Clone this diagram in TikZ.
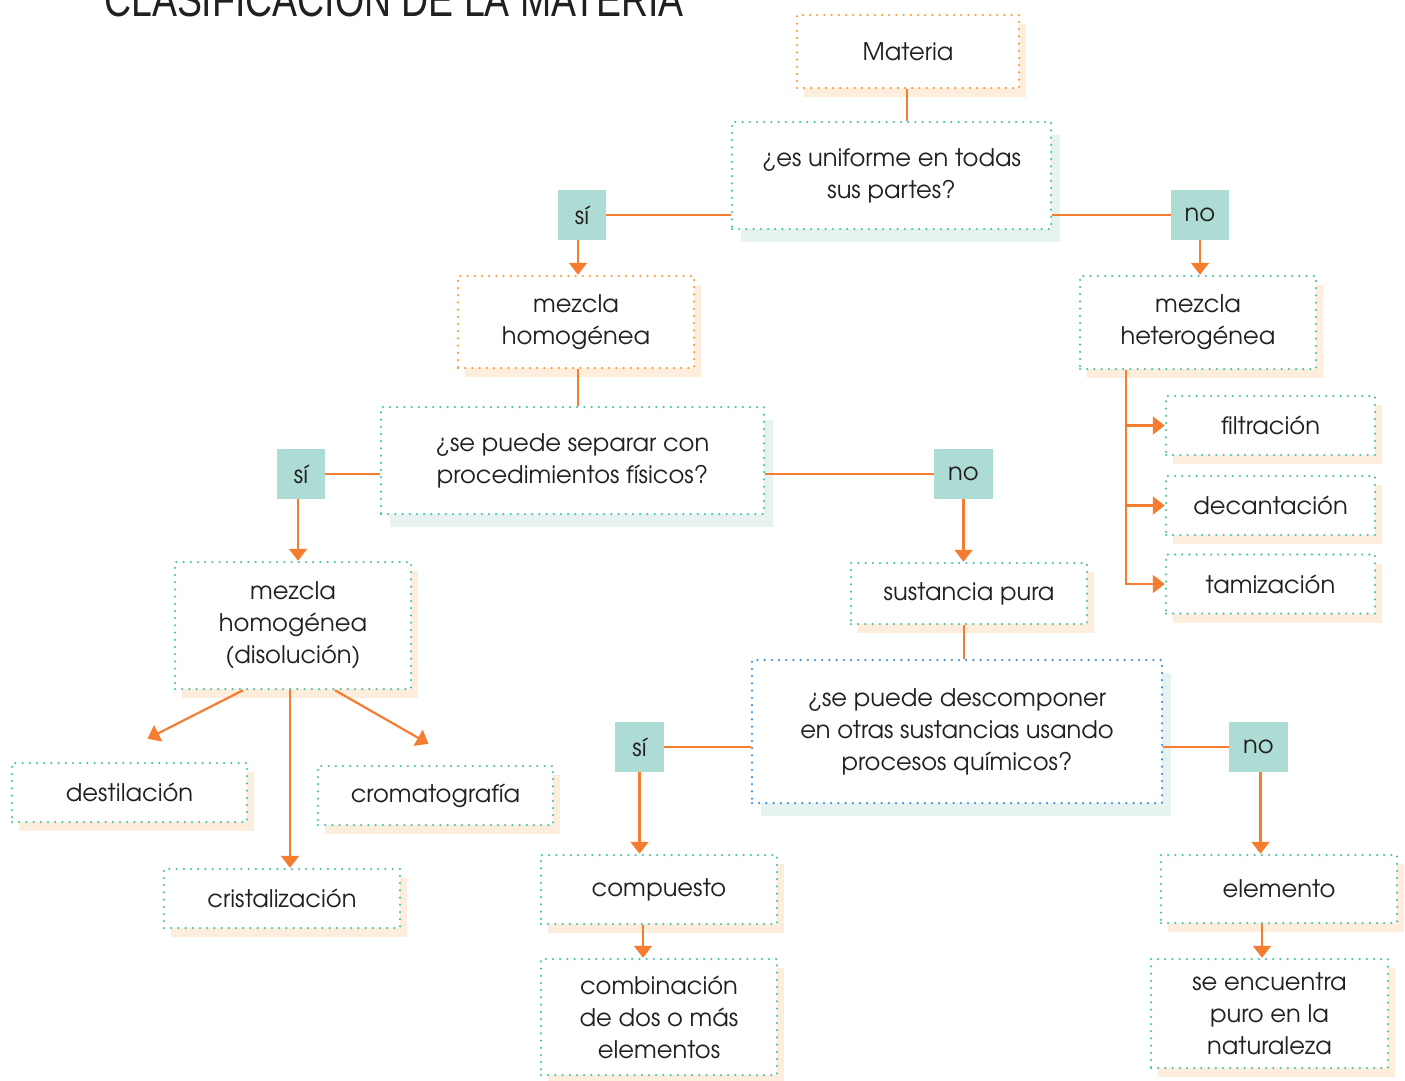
\documentclass[tikz,border=0pt]{standalone}
\usepackage{fontspec}
\setmainfont{texgyreadventor-regular.otf}
\newfontfamily\titlefont{Liberation Sans}
\usepackage{graphicx}
\usetikzlibrary{arrows.meta,positioning,shadows}
\definecolor{lineorange}{RGB}{244,125,48}
\definecolor{boxorange}{RGB}{245,162,62}
\definecolor{boxteal}{RGB}{82,196,172}
\definecolor{boxblue}{RGB}{66,145,215}
\definecolor{answerteal}{RGB}{172,220,212}
\definecolor{peach}{RGB}{253,237,221}
\definecolor{paleteal}{RGB}{230,243,240}
\definecolor{inkgray}{RGB}{35,31,32}

\begin{document}
\begin{tikzpicture}[
        x=1pt, y=-1pt,
        concept/.style={
            rectangle,
            fill=white,
            draw=boxteal,
            line width=2.5pt,
            dash pattern=on 0pt off 7.2pt,
            line cap=round,
            inner sep=0pt,
            text=inkgray,
            font=\fontsize{24.2}{32}\selectfont,
            align=center
        },
        warm/.style={
            concept,
            drop shadow={fill=peach, opacity=1, shadow xshift=7pt, shadow yshift=-9pt}
        },
        cool/.style={
            concept,
            drop shadow={fill=paleteal, opacity=1, shadow xshift=9pt, shadow yshift=-13pt}
        },
        answer/.style={
            rectangle,
            fill=answerteal,
            minimum width=48pt,
            minimum height=50pt,
            inner sep=0pt,
            text=inkgray,
            font=\fontsize{24.2}{32}\selectfont
        },
        link/.style={
            draw=lineorange,
            line width=2.2pt
        },
        arrow/.style={
            link,
            -{Triangle[width=18pt,length=12pt]}
        }
    ]
    \useasboundingbox (0,0) rectangle (1405,1080);

    % Title (cut at the top)
    \node[anchor=base west, inner sep=0pt, text=inkgray] (title) at (104,16)
        {\scalebox{0.78}[1]{\titlefont\fontsize{48}{48}\selectfont CLASIFICACIÓN DE LA MATERIA}};

    % First question
    \node[warm, draw=boxorange, minimum width=222pt, minimum height=73pt] (materia) at (908,51.5) {Materia};
    \node[cool, minimum width=319pt, minimum height=107pt] (q1) at (891.5,175.5) {¿es uniforme en todas\\sus partes?};
    \node[answer] (si1) at (582,215) {sí};
    \node[answer, minimum width=58pt] (no1) at (1200,215) {no};

    % Homogeneous branch
    \node[warm, draw=boxorange, minimum width=236pt, minimum height=92pt] (mh) at (576,322) {mezcla\\homogénea};
    \node[cool, minimum width=383pt, minimum height=107pt] (q2) at (572.5,460.5) {¿se puede separar con\\procedimientos físicos?};
    \node[answer] (si2) at (301,474) {sí};
    \node[answer, minimum width=59pt] (no2) at (963.5,474) {no};
    \node[warm, minimum width=236pt, minimum height=127pt] (dis) at (293,625.5) {mezcla\\homogénea\\(disolución)};
    \node[warm, minimum width=235pt, minimum height=59pt] (dest) at (129.5,792.5) {destilación};
    \node[warm, minimum width=235pt, minimum height=59pt] (crom) at (435.5,795.5) {cromatografía};
    \node[warm, minimum width=236pt, minimum height=59pt] (crist) at (282,898.5) {cristalización};

    % Heterogeneous branch
    \node[warm, minimum width=236pt, minimum height=93pt] (mhet) at (1198,322.5) {mezcla\\heterogénea};
    \node[warm, minimum width=209pt, minimum height=59pt] (filt) at (1270.5,425.5) {filtración};
    \node[warm, minimum width=209pt, minimum height=59pt] (dec) at (1270.5,505.5) {decantación};
    \node[warm, minimum width=209pt, minimum height=59pt] (tam) at (1270.5,584) {tamización};

    % Pure substance
    \node[warm, minimum width=236pt, minimum height=61pt] (sp) at (969,593.5) {sustancia pura};
    \node[cool, draw=boxblue, minimum width=410pt, minimum height=143pt] (q3) at (957,731.5) {¿se puede descomponer\\en otras sustancias usando\\procesos químicos?};
    \node[answer, minimum width=49pt] (si3) at (639.5,747) {sí};
    \node[answer, minimum width=59pt] (no3) at (1258.5,747) {no};
    \node[warm, minimum width=236pt, minimum height=69pt] (comp) at (659,889.5) {compuesto};
    \node[warm, minimum width=236pt, minimum height=116pt] (comb) at (659,1017) {combinación\\de dos o más\\elementos};
    \node[warm, minimum width=236pt, minimum height=68pt] (elem) at (1279,889) {elemento};
    \node[warm, minimum width=237pt, minimum height=109pt] (pure) at (1269.5,1013.5) {se encuentra\\puro en la\\naturaleza};

    % Connectors
    \draw[link] ([xshift=-1pt]materia.south) -- ([xshift=-1pt]materia.south |- q1.north);
    \draw[link] (si1.east) -- (si1.east -| q1.west);
    \draw[link] (q1.east |- no1) -- (no1.west);
    \draw[arrow] ([xshift=-4pt]si1.south) -- ([xshift=-4pt]si1.south |- mh.north);
    \draw[arrow] (no1.south) -- (no1.south |- mhet.north);

    \draw[link] ([xshift=2pt]mh.south) -- ([xshift=2pt]mh.south |- q2.north);
    \draw[link] (si2.east) -- (si2.east -| q2.west);
    \draw[link] (q2.east |- no2) -- (no2.west);
    \draw[arrow] ([xshift=-3pt]si2.south) -- ([xshift=-3pt]si2.south |- dis.north);
    \draw[arrow] ([xshift=-50pt]dis.south) -- ([shift={(18pt,23pt)}]dest.north);
    \draw[arrow] ([xshift=42pt]dis.south) -- ([shift={(-7pt,21pt)}]crom.north);
    \draw[arrow] ([xshift=-3pt]dis.south) -- ([xshift=-3pt]dis.south |- crist.north);

    \foreach \dest in {filt,dec,tam}
        \draw[arrow] ([xshift=-72pt]mhet.south) |- (\dest.west);

    \draw[arrow] (no2.south) -- (no2.south |- sp.north);
    \draw[link] ([xshift=-5pt]sp.south) -- ([xshift=-5pt]sp.south |- q3.north);
    \draw[link] (si3.east) -- (si3.east -| q3.west);
    \draw[link] (q3.east |- no3) -- (no3.west);
    \draw[arrow] (si3.south) -- (si3.south |- comp.north);
    \draw[arrow] ([xshift=-16pt]comp.south) -- ([xshift=-16pt]comp.south |- comb.north);
    \draw[arrow] ([xshift=2pt]no3.south) -- ([xshift=2pt]no3.south |- elem.north);
    \draw[arrow] ([xshift=-17pt]elem.south) -- ([xshift=-17pt]elem.south |- pure.north);

\end{tikzpicture}
\end{document}
